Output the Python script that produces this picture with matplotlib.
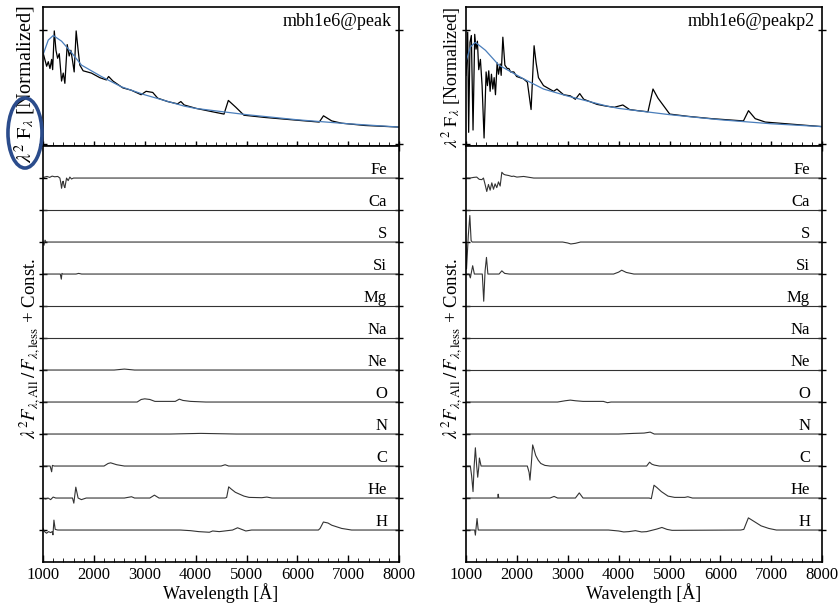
# Imports and Packages

import matplotlib
matplotlib.use("Agg")
import matplotlib.pyplot as plt
from matplotlib.patches import Ellipse
from matplotlib.ticker import MultipleLocator

plt.rcParams["font.family"] = ["Liberation Serif", "DejaVu Serif"]
plt.rcParams["mathtext.fontset"] = "stix"


# Normalized spectra (top panels)

peak_wl = [1000, 1072, 1104, 1137, 1170, 1190, 1222, 1255, 1287, 1320, 1365, 1398, 1430,
           1476, 1515, 1548, 1580, 1613, 1652, 1691, 1724, 1789, 1952, 2115, 2245, 2290,
           2375, 2570, 2733, 2929, 3027, 3157, 3254, 3450, 3645, 3710, 3775, 4010, 4335,
           4558, 4643, 4790, 4950, 5373, 6025, 6430, 6513, 6676, 6870, 7328, 8000]
peak_flux = [0.80, 0.68, 0.72, 0.66, 0.74, 0.65, 0.99, 0.82, 0.75, 0.79, 0.55, 0.62, 0.53,
             0.87, 0.77, 0.82, 0.73, 0.63, 0.99, 0.82, 0.69, 0.64, 0.62, 0.58, 0.56, 0.59,
             0.55, 0.49, 0.47, 0.43, 0.46, 0.45, 0.40, 0.37, 0.35, 0.37, 0.34, 0.31, 0.28,
             0.26, 0.38, 0.32, 0.25, 0.23, 0.205, 0.19, 0.245, 0.20, 0.18, 0.16, 0.146]

peak_cont_wl = [1000, 1104, 1202, 1365, 1560, 1757, 2147, 2538, 2994, 3775, 4000, 5000,
                6000, 7000, 8000]
peak_cont = [0.78, 0.91, 0.95, 0.90, 0.80, 0.69, 0.59, 0.50, 0.43, 0.33, 0.31, 0.255,
             0.21, 0.175, 0.146]

peakp2_wl = [1000, 1006, 1033, 1052, 1078, 1105, 1138, 1171, 1197, 1224, 1250, 1283, 1316,
             1355, 1395, 1421, 1447, 1474, 1500, 1527, 1553, 1579, 1612, 1639, 1672, 1691,
             1724, 1764, 1810, 1843, 1876, 1940, 1995, 2127, 2206, 2279, 2338, 2378, 2424,
             2523, 2721, 2787, 2918, 3050, 3149, 3235, 3314, 3578, 3753, 3917, 4082, 4214,
             4378, 4576, 4675, 4773, 4839, 5004, 5366, 5827, 6453, 6552, 6684, 6881, 8000]
peakp2_flux = [0.60, 0.63, 0.98, 0.10, 0.89, 0.95, 0.12, 0.96, 0.83, 0.90, 0.65, 0.74, 0.51,
               0.05, 0.63, 0.51, 0.64, 0.46, 0.61, 0.48, 0.58, 0.43, 0.71, 0.61, 0.70, 0.60,
               0.935, 0.69, 0.66, 0.66, 0.63, 0.63, 0.59, 0.57, 0.54, 0.30, 0.86, 0.71, 0.58,
               0.51, 0.46, 0.48, 0.43, 0.42, 0.39, 0.44, 0.39, 0.345, 0.33, 0.32, 0.34, 0.30,
               0.29, 0.28, 0.48, 0.40, 0.36, 0.26, 0.24, 0.22, 0.20, 0.29, 0.22, 0.19, 0.15]

peakp2_cont_wl = [1000, 1085, 1184, 1382, 1645, 2127, 2523, 2984, 3775, 4000, 5000, 6000,
                  7000, 8000]
peakp2_cont = [0.72, 0.85, 0.89, 0.82, 0.69, 0.57, 0.48, 0.42, 0.33, 0.31, 0.255, 0.21,
               0.175, 0.15]


# Element ratio spectra (bottom panels), deviation from the offset baseline

elements = ["Fe", "Ca", "S", "Si", "Mg", "Na", "Ne", "O", "N", "C", "He", "H"]
flat_wl = [1000, 8000]
flat_dy = [0, 0]

peak_fe_wl = [1000, 1030, 1080, 1130, 1180, 1230, 1290, 1332, 1350, 1365, 1385, 1398, 1415,
              1430, 1463, 1495, 1528, 1561, 1600, 1724, 8000]
peak_fe_dy = [0, 0.03, 0.05, 0.02, 0.06, 0.04, 0.05, 0.0, -0.15, -0.32, -0.12, -0.1, -0.25,
              -0.3, 0.0, -0.08, 0.03, -0.03, 0.0, 0.0, 0]
peak_s_wl = [1000, 1020, 1040, 1060, 1100, 8000]
peak_s_dy = [0, -0.1, 0.06, 0.0, 0.0, 0]
peak_si_wl = [1000, 1340, 1360, 1372, 1390, 1650, 1700, 1760, 8000]
peak_si_dy = [0, 0, -0.16, 0.02, 0, 0, 0.02, 0, 0]
peak_ne_wl = [1000, 2400, 2600, 2800, 8000]
peak_ne_dy = [0, 0, 0.03, 0, 0]
peak_o_wl = [1000, 2850, 2930, 3000, 3100, 3200, 3600, 3680, 3750, 3900, 4200, 8000]
peak_o_dy = [0, 0, 0.08, 0.1, 0.08, 0.02, 0.02, 0.09, 0.05, 0.02, 0, 0]
peak_n_wl = [1000, 3500, 4100, 4800, 8000]
peak_n_dy = [0, 0, 0.02, 0, 0]
peak_c_wl = [1000, 1140, 1170, 1185, 1220, 2200, 2280, 2330, 2450, 2600, 4500, 4580, 4650,
             8000]
peak_c_dy = [0, 0, -0.18, 0.02, 0, 0, 0.08, 0.1, 0.04, 0, 0, 0.04, 0, 0]
peak_he_wl = [1000, 1050, 1100, 1150, 1200, 1250, 1580, 1606, 1645, 1690, 1755, 1850, 2600,
              2740, 2800, 3100, 3190, 3280, 4580, 4610, 4650, 4700, 4780, 4850, 4950, 5050,
              5300, 5400, 5500, 8000]
peak_he_dy = [0, -0.03, 0.0, -0.05, 0.03, 0, 0, -0.16, 0.34, 0.0, -0.05, 0, 0, 0.04, 0, 0,
              0.09, 0, 0, 0.02, 0.35, 0.28, 0.18, 0.13, 0.06, 0.02, 0.01, 0.03, 0, 0]
peak_h_wl = [1000, 1030, 1070, 1110, 1150, 1180, 1196, 1215, 1240, 1290, 3700, 3900, 4060,
             4270, 4335, 4465, 4726, 4824, 4987, 5100, 6413, 6446, 6511, 6600, 6676, 6870,
             7066, 8000]
peak_h_dy = [0.05, -0.05, -0.1, -0.05, -0.08, -0.05, -0.15, 0.31, 0.02, 0, 0, -0.02, -0.05,
             -0.07, -0.03, -0.05, 0.0, 0.07, -0.03, 0, 0, 0.05, 0.25, 0.22, 0.15, 0.05, 0, 0]

peakp2_fe_wl = [1000, 1080, 1150, 1210, 1260, 1310, 1343, 1375, 1408, 1441, 1474, 1507, 1540,
                1572, 1605, 1638, 1671, 1704, 1740, 1770, 1836, 1900, 1935, 2000, 2133, 2250,
                2331, 8000]
peakp2_fe_dy = [0, 0.0, 0.02, 0.03, -0.04, -0.05, 0.0, -0.2, -0.42, -0.2, -0.38, -0.15,
                -0.35, -0.18, -0.3, -0.12, -0.25, 0.18, 0.12, 0.1, 0.08, 0.05, 0.06, 0.03,
                0.05, 0.02, 0, 0]
peakp2_s_wl = [1000, 1010, 1045, 1075, 1100, 1120, 2900, 3000, 3060, 3150, 3250, 8000]
peakp2_s_dy = [0, -0.84, 0.2, 0.83, 0.05, 0, 0, -0.03, -0.06, -0.04, 0, 0]
peakp2_si_wl = [1000, 1060, 1085, 1131, 1164, 1320, 1348, 1375, 1402, 1430, 1650, 1704, 1760,
                1850, 3900, 4000, 4060, 4150, 4300, 8000]
peakp2_si_dy = [0, 0, -0.12, 0.26, 0, 0, -0.85, 0.1, 0.52, 0.0, 0, 0.1, 0.02, 0, 0, 0.06,
                0.12, 0.05, 0, 0]
peakp2_o_wl = [1000, 2800, 2950, 3050, 3150, 3300, 3700, 3780, 3850, 8000]
peakp2_o_dy = [0, 0, 0.04, 0.06, 0.04, 0.02, 0.02, -0.02, 0, 0]
peakp2_n_wl = [1000, 4000, 4300, 4500, 4620, 4700, 8000]
peakp2_n_dy = [0, 0, 0.02, 0.03, 0.06, 0, 0]
peakp2_c_wl = [1000, 1085, 1110, 1138, 1160, 1184, 1210, 1230, 1250, 1263, 1296, 2205, 2240,
               2257, 2285, 2310, 2340, 2370, 2420, 2470, 2550, 2650, 4550, 4608, 4650, 4700,
               4800, 8000]
peakp2_c_dy = [0, 0, -0.3, -0.8, 0.0, 0.57, 0.0, -0.35, -0.05, 0.25, 0, 0, -0.2, -0.44, 0.1,
               0.66, 0.5, 0.33, 0.18, 0.08, 0.02, 0, 0, 0.12, 0.06, 0.03, 0, 0]
peakp2_he_wl = [1000, 1600, 1625, 1632, 1645, 2650, 2731, 2800, 3150, 3226, 3300, 4600, 4642,
                4695, 4750, 4840, 4970, 5100, 5300, 5360, 5450, 8000]
peakp2_he_dy = [0, 0, 0.0, 0.12, 0, 0, 0.05, 0, 0, 0.16, 0, 0, -0.02, 0.4, 0.33, 0.2, 0.06,
                0.02, 0.02, 0.04, 0, 0]
peakp2_h_wl = [1000, 1170, 1184, 1200, 1217, 1240, 3800, 4000, 4100, 4200, 4330, 4450, 4550,
               4750, 4850, 4950, 5050, 6400, 6460, 6550, 6650, 6800, 6950, 7100, 8000]
peakp2_h_dy = [0, 0, -0.16, 0.1, 0.36, 0, 0, -0.03, -0.06, -0.05, -0.02, -0.06, -0.05, 0.03,
               0.08, 0.02, -0.01, 0, 0.02, 0.38, 0.28, 0.13, 0.05, 0.0, 0]

peak_ratios = {
    "Fe": (peak_fe_wl, peak_fe_dy), "Ca": (flat_wl, flat_dy), "S": (peak_s_wl, peak_s_dy),
    "Si": (peak_si_wl, peak_si_dy), "Mg": (flat_wl, flat_dy), "Na": (flat_wl, flat_dy),
    "Ne": (peak_ne_wl, peak_ne_dy), "O": (peak_o_wl, peak_o_dy), "N": (peak_n_wl, peak_n_dy),
    "C": (peak_c_wl, peak_c_dy), "He": (peak_he_wl, peak_he_dy), "H": (peak_h_wl, peak_h_dy),
}
peakp2_ratios = {
    "Fe": (peakp2_fe_wl, peakp2_fe_dy), "Ca": (flat_wl, flat_dy),
    "S": (peakp2_s_wl, peakp2_s_dy), "Si": (peakp2_si_wl, peakp2_si_dy),
    "Mg": (flat_wl, flat_dy), "Na": (flat_wl, flat_dy), "Ne": (flat_wl, flat_dy),
    "O": (peakp2_o_wl, peakp2_o_dy), "N": (peakp2_n_wl, peakp2_n_dy),
    "C": (peakp2_c_wl, peakp2_c_dy), "He": (peakp2_he_wl, peakp2_he_dy),
    "H": (peakp2_h_wl, peakp2_h_dy),
}


# Drawing helpers

def style_axis(ax):
    for s in ax.spines.values():
        s.set_linewidth(1.2)
    ax.set_xlim(1000, 8000)
    ax.xaxis.set_major_locator(MultipleLocator(1000))
    ax.xaxis.set_minor_locator(MultipleLocator(200))
    ax.tick_params(axis="both", labelsize=12, width=1.0)


def draw_column(fig, left, name, wl, flux, cont_wl, cont, ratios, top_lab, bot_lab):
    width = 0.425
    top = fig.add_axes([left, 0.7583, width, 0.2301])
    bot = fig.add_axes([left, 0.0695, width, 0.6887])

    # Top: normalized spectrum with continuum
    top.plot(wl, flux, color="black", lw=0.9)
    top.plot(cont_wl, cont, color="#4a7ebb", lw=0.9)
    style_axis(top)
    top.set_ylim(-0.02, 1.2)
    top.set_yticks([0, 1])
    top.tick_params(axis="y", which="major", direction="inout", length=6,
                    left=True, right=True, labelleft=False)
    top.tick_params(axis="x", which="major", direction="inout", length=7, labelbottom=False)
    top.tick_params(axis="x", which="minor", direction="in", length=3)
    top.set_ylabel(r"$\lambda^2\ \mathrm{F}_\lambda$ [Normalized]", fontsize=top_lab[0])
    top.yaxis.set_label_coords(top_lab[1], top_lab[2])
    top.text(0.978, 0.86, name, transform=top.transAxes, ha="right", va="baseline",
             fontsize=13)

    # Bottom: element contributions stacked with constant offsets
    for i, el in enumerate(elements):
        off = len(elements) - 1 - i
        x, dy = ratios[el]
        bot.plot(x, [off + d for d in dy], color="0.2", lw=0.8)
        bot.text(0.966, off + 0.13, el, transform=bot.get_yaxis_transform(),
                 ha="right", va="baseline", fontsize=12)
    style_axis(bot)
    bot.set_ylim(-1, 12)
    bot.set_yticks(range(len(elements)))
    bot.tick_params(axis="y", which="major", direction="inout", length=6,
                    left=True, right=True, labelleft=False)
    bot.tick_params(axis="x", which="major", direction="in", length=5)
    bot.tick_params(axis="x", which="minor", direction="in", length=3)
    bot.set_xlabel("Wavelength [Å]", fontsize=13, labelpad=0)
    bot.set_ylabel(r"$\lambda^2 F_{\lambda,\mathrm{All}}\,/\,F_{\lambda,\mathrm{less}}$ + Const.",
                   fontsize=13.5)
    bot.yaxis.set_label_coords(bot_lab, 0.513)
    return top, bot


# Figure

fig = plt.figure(figsize=(8.38, 6.04), dpi=100)

draw_column(fig, 0.0513, "mbh1e6@peak", peak_wl, peak_flux, peak_cont_wl, peak_cont,
            peak_ratios, (14.5, -0.014, 0.446), -0.004)
draw_column(fig, 0.5561, "mbh1e6@peakp2", peakp2_wl, peakp2_flux, peakp2_cont_wl,
            peakp2_cont, peakp2_ratios, (13, -0.008, 0.49), -0.006)

# Highlight around the left ylabel
fig.patches.append(Ellipse((0.0298, 0.7798), 0.0406, 0.116, transform=fig.transFigure,
                           fill=False, edgecolor="#2b4c8c", lw=2.6))

fig.savefig("out.png", dpi=100)
